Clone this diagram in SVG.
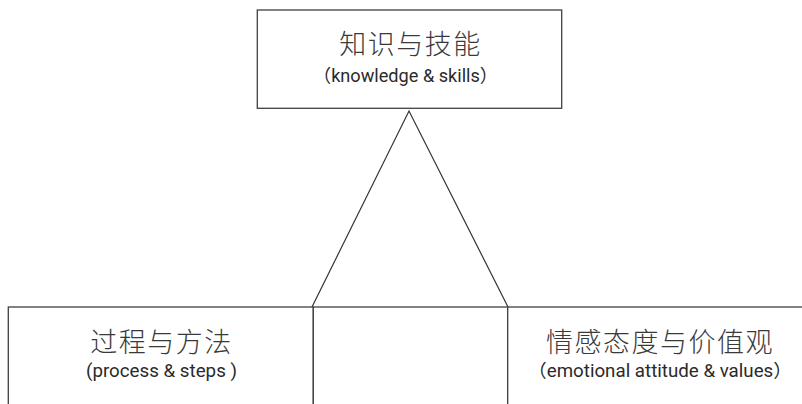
<svg xmlns="http://www.w3.org/2000/svg" width="802" height="404" viewBox="0 0 802 404">
<style>
.box{fill:#ffffff;stroke:#404040;stroke-width:1.3}
.ln{fill:none;stroke:#333333;stroke-width:1.2}
.cn{font-family:"Noto Sans CJK SC","Noto Sans",sans-serif;font-size:27px;font-weight:300;fill:#3a3a3a;text-anchor:middle;letter-spacing:1.5px}
.en{font-family:"Roboto","Noto Sans CJK SC",sans-serif;font-size:18px;fill:#2a2a2a;text-anchor:middle}
</style>
<rect x="0" y="0" width="802" height="404" fill="#ffffff"/>
<g id="connectors">
<polyline class="ln" points="312,307 409,111 508,307"/>
</g>
<g id="node-knowledge">
<rect class="box" x="257.3" y="10" width="304.4" height="98.3"/>
<text class="cn" x="410.5" y="53.5">知识与技能</text>
<text class="en" x="405.5" y="82" textLength="185" lengthAdjust="spacingAndGlyphs">（knowledge &amp; skills）</text>
</g>
<g id="node-process">
<rect class="box" x="8.3" y="307" width="305" height="120"/>
<text class="cn" x="161.5" y="351.5">过程与方法</text>
<text class="en" x="161.5" y="377" textLength="151" lengthAdjust="spacingAndGlyphs">(process &amp; steps )</text>
</g>
<g id="node-middle">
<rect class="box" x="313.3" y="307" width="194.4" height="120"/>
</g>
<g id="node-emotion">
<rect class="box" x="507.7" y="307" width="320" height="120"/>
<text class="cn" x="660" y="351.5">情感态度与价值观</text>
<text class="en" x="660" y="377" textLength="264" lengthAdjust="spacingAndGlyphs">（emotional attitude &amp; values）</text>
</g>
</svg>
